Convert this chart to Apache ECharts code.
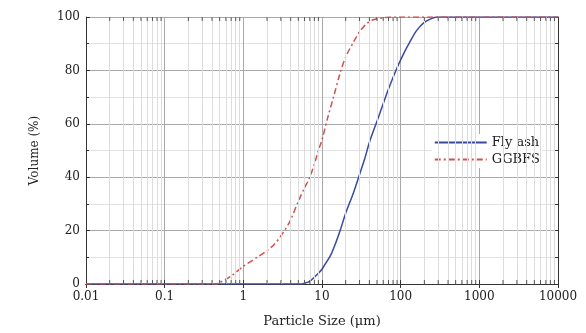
<!DOCTYPE html>
<html><head><meta charset="utf-8">
<script src="https://cdn.jsdelivr.net/npm/echarts@6/dist/echarts.min.js"></script>
<style>html,body{margin:0;padding:0;background:#fff}#c{width:586px;height:333px}</style>
</head><body><div id="c"></div>
<script>
const sizeFly = [0.01,5.5,6,7,8,9,10,11,13,15,17,20,25,30,35,40,50,60,70,90,110,130,160,200,250,300,10000];
const volFly  = [0,0,0.3,1,2.5,4,5.5,7.5,11,15.5,20,26.5,34,41,47,53,61,67.5,73,81,86.5,90.5,95,98,99.5,100,100];
const sizeGG  = [0.01,0.45,0.5,0.7,1,1.5,2,2.5,3,3.5,4,5,6,7,8,9,10,12,14,17,20,25,30,37,45,60,80,10000];
const volGG   = [0,0,0.5,3,6.6,10,12.5,15,18,21,24,31,36,40,45,50,54,63,70,79,85,90.5,94.5,97.5,99,99.7,100,100];
const xTickLabels = ['0.01','0.1','1','10','100','1000','10000'];
const yTickLabels = [0,20,40,60,80,100];
const minorX = [];
[0.01,0.1,1,10,100,1000].forEach(d=>{for(let k=2;k<=9;k++) minorX.push(+(d*k).toPrecision(3));});

const font = 'DejaVu Serif';
const chart = echarts.init(document.getElementById('c'));
const axisBase = {
  axisLine:{show:true,lineStyle:{color:'#333',width:1}},
  axisTick:{show:true,inside:true,length:4,lineStyle:{color:'#333'}},
};
chart.setOption({
  animation:false,
  grid:{left:86,right:28,top:17,bottom:45},
  legend:{
    right:44, top:134, orient:'vertical', itemWidth:52, itemHeight:10, itemGap:4,
    backgroundColor:'#fff', padding:[2,2,2,2],
    itemStyle:{opacity:0, borderWidth:0},
    textStyle:{fontFamily:font,fontSize:13,color:'#222',width:60,padding:[0,0,0,0]},
    data:['Fly ash','GGBFS']
  },
  xAxis:[
    Object.assign({}, axisBase, {
      type:'log', logBase:10, min:0.01, max:10000,
      name:'Particle Size (\u03bcm)', nameLocation:'middle', nameGap:31,
      nameTextStyle:{fontFamily:font,fontSize:13,color:'#222'},
      axisLabel:{fontFamily:font,fontSize:12,color:'#222',margin:7,
        formatter:(v)=>{const i=Math.round(Math.log10(v))+2;return xTickLabels[i]||'';}},
      splitLine:{show:true,lineStyle:{color:'#a8a8a8',width:1}}
    }),
    Object.assign({}, axisBase, {
      type:'log', logBase:10, min:0.01, max:10000, position:'top',
      axisLabel:{show:false}, splitLine:{show:false}
    })
  ],
  yAxis:[
    Object.assign({}, axisBase, {
      type:'value', min:0, max:100, interval:20,
      name:'Volume (%)', nameLocation:'middle', nameGap:45, nameRotate:90,
      nameTextStyle:{fontFamily:font,fontSize:12,color:'#222'},
      axisLabel:{fontFamily:font,fontSize:12,color:'#222',margin:6,
        formatter:(v)=>String(yTickLabels[Math.round(v/20)])},
      splitLine:{show:true,lineStyle:{color:'#a8a8a8',width:1}},
      minorTick:{show:true,splitNumber:2,length:3,lineStyle:{color:'#333'}},
      minorSplitLine:{show:true,lineStyle:{color:'#e2e2e2',width:1}}
    }),
    Object.assign({}, axisBase, {
      type:'value', min:0, max:100, interval:20, position:'right',
      axisLabel:{show:false}, splitLine:{show:false},
      minorTick:{show:true,splitNumber:2,length:3,lineStyle:{color:'#333'}}
    })
  ],
  series:[
    {
      name:'minor', type:'line', data:[], silent:true, legendHoverLink:false,
      markLine:{silent:true,symbol:'none',label:{show:false},
        lineStyle:{color:'#dcdcdc',width:1,type:'solid'},
        data:minorX.map(v=>({xAxis:v}))}
    },
    {
      name:'minorTicksBottom', type:'scatter', silent:true,
      symbol:'rect', symbolSize:[1,4], symbolOffset:[0,-2],
      itemStyle:{color:'#333'},
      data:minorX.map(v=>[v,0]), z:5
    },
    {
      name:'minorTicksTop', type:'scatter', silent:true,
      symbol:'rect', symbolSize:[1,4], symbolOffset:[0,2],
      itemStyle:{color:'#333'},
      data:minorX.map(v=>[v,100]), z:5
    },
    {
      name:'Fly ash', type:'line', symbol:'none', smooth:0.3,
      data:sizeFly.map((s,i)=>[s,volFly[i]]),
      lineStyle:{color:'#3a4a9e',width:1.5}, itemStyle:{color:'#3a4a9e'}, z:4
    },
    {
      name:'GGBFS', type:'line', symbol:'none', smooth:0.3,
      data:sizeGG.map((s,i)=>[s,volGG[i]]),
      lineStyle:{color:'#d2504e',width:1.5,type:[6,3,2,3]}, itemStyle:{color:'#d2504e'}, z:4
    }
  ]
});
</script></body></html>
